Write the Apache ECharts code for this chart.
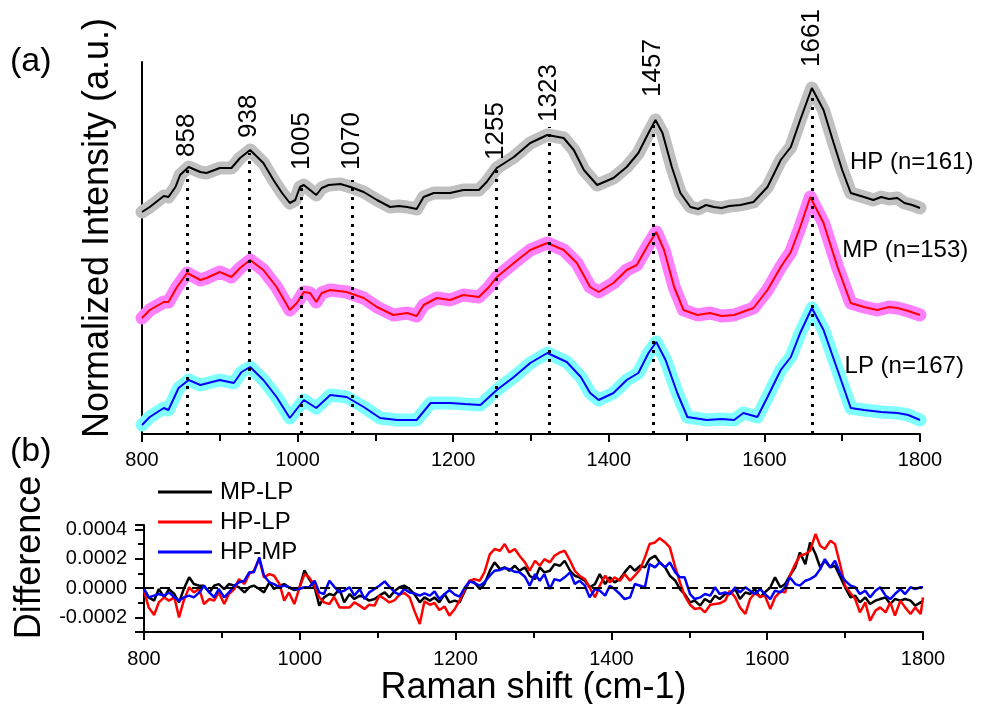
<!DOCTYPE html>
<html><head><meta charset="utf-8">
<script src="https://cdn.jsdelivr.net/npm/echarts@6/dist/echarts.min.js"></script>
<style>html,body{margin:0;padding:0;background:#fff}#c{width:985px;height:704px}</style>
</head><body><div id="c"></div>
<script>
// ---------- (a) mean spectra (offset, arbitrary units) ----------
const hpShift = [800,810,828,834,843,849,860,875,883,900,915,926,939,956,969,980,990,997,1003,1008,1016,1024,1031,1040,1055,1068,1085,1102,1119,1130,1141,1153,1162,1175,1196,1213,1233,1243,1256,1278,1299,1321,1342,1355,1368,1385,1406,1423,1438,1451,1460,1469,1481,1492,1505,1515,1525,1535,1545,1555,1569,1586,1604,1621,1634,1646,1661,1676,1689,1700,1711,1728,1740,1750,1760,1771,1780,1790,1800];
const hpIntensity = [2.22,2.27,2.38,2.37,2.47,2.59,2.67,2.62,2.61,2.66,2.66,2.76,2.84,2.71,2.54,2.41,2.31,2.34,2.47,2.49,2.44,2.39,2.46,2.49,2.50,2.47,2.42,2.34,2.27,2.28,2.27,2.25,2.37,2.41,2.41,2.44,2.44,2.52,2.66,2.77,2.91,2.99,2.96,2.84,2.64,2.49,2.56,2.67,2.81,3.01,3.14,3.01,2.67,2.41,2.27,2.25,2.29,2.27,2.26,2.28,2.29,2.32,2.47,2.74,2.87,3.14,3.46,3.24,2.91,2.64,2.41,2.37,2.34,2.37,2.35,2.36,2.31,2.29,2.26];

const mpShift = [800,810,828,834,845,858,875,883,900,915,926,939,956,973,990,999,1008,1016,1024,1031,1042,1063,1085,1102,1123,1141,1153,1162,1179,1196,1213,1233,1246,1256,1278,1299,1321,1342,1359,1376,1387,1406,1423,1436,1449,1461,1471,1484,1496,1514,1530,1545,1561,1586,1604,1621,1634,1646,1659,1676,1694,1711,1728,1745,1760,1771,1785,1800];
const mpIntensity = [1.16,1.24,1.32,1.32,1.47,1.61,1.54,1.56,1.62,1.57,1.66,1.74,1.64,1.47,1.24,1.31,1.42,1.41,1.32,1.41,1.44,1.42,1.36,1.27,1.19,1.21,1.18,1.29,1.36,1.34,1.39,1.37,1.47,1.57,1.71,1.84,1.91,1.84,1.71,1.47,1.42,1.51,1.64,1.69,1.87,2.02,1.84,1.47,1.24,1.19,1.21,1.18,1.19,1.26,1.44,1.67,1.82,2.07,2.37,2.11,1.67,1.31,1.27,1.24,1.27,1.26,1.23,1.19];

const lpShift = [800,810,828,834,847,860,875,900,918,928,939,956,973,990,1008,1024,1042,1063,1085,1106,1128,1153,1171,1196,1215,1235,1256,1278,1299,1321,1346,1364,1376,1387,1406,1423,1438,1451,1461,1473,1488,1501,1526,1545,1561,1573,1591,1604,1621,1634,1646,1661,1676,1694,1711,1728,1750,1771,1785,1800];
const lpIntensity = [0.09,0.17,0.26,0.24,0.46,0.54,0.49,0.54,0.51,0.62,0.67,0.54,0.37,0.16,0.34,0.26,0.39,0.37,0.27,0.16,0.14,0.14,0.31,0.31,0.30,0.29,0.44,0.57,0.71,0.81,0.72,0.57,0.41,0.34,0.41,0.54,0.61,0.81,0.92,0.74,0.41,0.17,0.14,0.15,0.14,0.21,0.17,0.37,0.64,0.77,1.01,1.26,1.04,0.64,0.26,0.24,0.22,0.21,0.19,0.14];

const curveNames = ['HP (n=161)', 'MP (n=153)', 'LP (n=167)'];

// peak assignments (cm-1), height of dotted marker and of its label base
const peakShift = [858, 938, 1005, 1070, 1255, 1323, 1457, 1661];
const peakTop = [2.64, 2.81, 2.47, 2.54, 2.64, 3.07, 3.11, 3.42];
const peakLabelBase = [2.77, 2.96, 2.64, 2.64, 2.74, 3.12, 3.37, 3.67];

// ---------- (b) difference spectra (values in units of 1e-4) ----------
const DIFF_UNIT = 1e-4;
const diffShift = [800,806,813,819,826,832,839,845,851,858,864,871,877,884,890,896,903,909,916,922,929,935,941,948,954,961,967,974,980,986,993,999,1006,1012,1019,1025,1031,1038,1044,1051,1057,1064,1070,1077,1083,1089,1096,1102,1109,1115,1122,1128,1134,1141,1147,1154,1160,1167,1173,1179,1186,1192,1199,1205,1212,1218,1224,1231,1237,1244,1250,1257,1263,1269,1276,1282,1289,1295,1302,1308,1314,1321,1327,1334,1340,1347,1353,1359,1366,1372,1379,1385,1392,1398,1404,1411,1417,1424,1430,1437,1443,1449,1456,1462,1469,1475,1482,1488,1494,1501,1507,1514,1520,1527,1533,1539,1546,1552,1559,1565,1572,1578,1584,1591,1597,1604,1610,1617,1623,1629,1636,1642,1649,1655,1662,1668,1674,1681,1687,1694,1700,1707,1713,1719,1726,1732,1739,1745,1752,1758,1764,1771,1777,1784,1790,1797,1800];
const mpMinusLp = [-0.07,-0.64,-0.86,-0.07,-0.64,-0.07,-0.41,-0.98,-0.07,0.73,
 0.27,0.16,0.16,-0.30,0.16,0.27,-0.07,0.27,0.16,0.05,
 -0.30,0.05,0.16,-0.07,-0.30,0.39,-0.07,0.16,0.27,0.05,
 -0.14,-0.07,1.2,0.61,0.05,-1.20,-0.64,-0.41,-0.5,
 -0.07,-0.98,-0.41,-0.75,-0.52,-0.64,-0.86,-0.75,-0.52,-0.30,
 -0.64,-0.18,0.05,0.16,-0.07,-0.41,-0.98,-0.64,-0.86,-0.64,
 -0.98,-0.41,-0.98,-0.86,-0.98,-0.18,0.50,0.39,-0.07,0.27,
 1.18,1.75,1.29,1.41,1.18,1.52,1.18,1.41,0.84,
 0.61,1.41,1.07,1.18,1.63,1.52,1.86,1.18,0.84,0.73,
 0.50,0.05,0.27,0.95,0.27,0.73,0.39,0.61,1.07,1.52,
 1.18,1.52,1.41,1.97,2.20,1.75,1.41,0.84,0.50,-0.07,
 -0.41,-0.98,-0.86,-1.20,-0.75,-0.98,-0.52,-0.75,-0.41,
 -0.41,-0.07,-0.75,-0.30,-0.41,-0.07,-0.64,-0.30,0.05,0.73,
 0.05,0.27,0.84,1.41,2.43,1.63,3.11,2.32,1.41,1.86,
 1.41,1.52,0.73,0.05,-0.64,-0.52,-0.98,-0.64,-1.09,-0.86,
 -0.75,-0.64,-1.09,-0.75,-0.86,-0.75,-0.86,-1.20,-0.98,-0.86];
const hpMinusLp = [-0.18,-1.32,-1.84,-0.98,-0.64,-0.86,-0.64,-2.0,-0.86,0.05,
 -0.30,-0.07,-1.09,-0.75,-0.86,-0.30,-1.09,-0.41,-0.07,0.61,
 0.27,0.95,1.18,1.97,0.73,0.95,0.84,0.27,-0.86,-0.30,
 -1.09,-0.07,0.95,0.73,0.16,-0.64,-0.98,-1.09,-0.6,
 -1.32,-1.32,-1.32,-0.98,-1.20,-1.43,-1.14,-1.20,-0.52,-0.75,
 -0.98,-0.82,-0.45,-0.32,-0.64,-1.54,-2.45,-0.91,-1.14,-1.02,
 -1.50,-1.27,-1.88,-1.43,-0.86,-0.07,0.50,0.61,0.50,1.07,
 2.32,2.66,2.54,3.0,2.43,2.66,2.20,1.75,1.18,
 1.86,1.52,1.97,1.75,2.20,2.43,2.54,1.86,1.18,0.84,
 0.61,0.05,-0.64,0.16,0.84,0.39,0.73,0.50,0.95,0.50,
 0.84,1.29,2.09,3.0,3.11,3.4,3.11,2.77,1.41,0.39,
 -0.52,-1.14,-1.43,-1.36,-1.66,-1.14,-1.09,-1.04,-0.86,
 -0.18,-0.64,-1.32,-1.77,-0.75,-0.36,-0.59,-0.52,-1.43,-0.64,
 -0.23,-0.30,0.84,1.63,2.20,2.32,2.54,3.68,2.88,2.66,
 3.22,3.0,1.52,0.16,-0.36,-0.75,-1.66,-0.98,-2.22,-1.54,
 -1.32,-1.66,-0.98,-1.88,-0.86,-1.32,-1.77,-1.32,-1.77,-0.64];
const hpMinusMp = [-0.07,-0.64,-0.52,-0.41,-0.52,-0.30,-0.64,-0.86,-0.64,-0.52,
 -0.64,-0.30,0.16,-0.30,-0.64,-0.07,-0.64,-0.30,0.16,0.39,
 0.50,1.07,1.07,2.09,0.84,0.39,0.27,0.05,0.16,0.05,
 -0.07,-0.07,0.05,0.05,0.50,-0.30,-0.41,0.50,0.1,
 -0.30,-0.18,0.05,-0.52,-0.07,-0.75,-0.30,-0.07,0.16,0.45,
 0.09,-0.30,-0.45,-0.07,-0.30,-0.36,-0.52,-0.36,-0.52,-0.23,
 -0.75,-0.41,-0.14,-0.45,-0.59,0.05,0.45,0.34,0.16,0.39,
 0.84,1.18,1.23,1.36,1.29,1.11,1.07,0.77,0.16,
 0.95,0.50,0.95,-0.07,0.61,0.50,0.73,1.07,0.27,0.50,
 0.16,-0.64,-0.07,-0.18,-0.52,0.16,-0.07,-0.41,-0.75,-0.64,
 0.27,0.16,0.05,1.63,1.41,1.75,1.41,1.75,1.07,0.73,
 0.73,-0.41,-0.75,-0.64,-0.41,-0.52,0.05,-0.41,-0.30,
 -0.41,0.05,-0.30,0.05,-0.18,-0.41,-0.07,-0.41,-0.75,-0.18,
 -0.30,0.05,0.73,0.27,0.16,0.50,0.61,0.84,1.29,1.97,
 1.41,1.86,0.95,0.50,0.16,0.05,-0.41,-0.18,-0.64,-0.18,
 0.05,-0.52,-0.75,-0.41,-0.07,-0.41,0.05,-0.07,0.05,0.05];
const diffNames = ['MP-LP', 'HP-LP', 'HP-MP'];

// ---------- axis ranges / ticks ----------
const shiftTicks = [800, 1000, 1200, 1400, 1600, 1800];
const DIFF_MIN = -0.0003, DIFF_MAX = 0.00043;

// ---------- build ----------
const F = "'Liberation Sans', Arial, Helvetica, sans-serif";
const zip = (xs, ys, k) => xs.map((x, i) => [x, ys[i] * (k || 1)]);
const hp = zip(hpShift, hpIntensity), mp = zip(mpShift, mpIntensity), lp = zip(lpShift, lpIntensity);

const baseX = (gi, extra) => Object.assign({
  gridIndex: gi, type: 'value', min: shiftTicks[0], max: shiftTicks[shiftTicks.length - 1], interval: 200,
  axisLine: { show: true, onZero: false, lineStyle: { color: '#000', width: 2 } },
  axisTick: { show: true, length: 8, lineStyle: { color: '#000', width: 2 } },
  minorTick: { show: true, splitNumber: 2, length: 7, lineStyle: { color: '#000', width: 2 } },
  axisLabel: { fontSize: 20, color: '#000', fontFamily: F, margin: 16, formatter: v => String(v) },
  splitLine: { show: false }, minorSplitLine: { show: false }
}, extra || {});

function spectrum(name, data, bandColor, lineColor, labelXY) {
  return [
    { type: 'line', xAxisIndex: 0, yAxisIndex: 0, data, symbol: 'none', silent: true, z: 1,
      lineStyle: { color: bandColor, width: 13, join: 'round', cap: 'round' } },
    { type: 'line', name, xAxisIndex: 0, yAxisIndex: 0, data, symbol: 'none', silent: true, z: 3,
      lineStyle: { color: lineColor, width: 2 },
      markPoint: { symbol: 'circle', symbolSize: 0, silent: true, animation: false,
        data: [{ coord: labelXY, label: { show: true, formatter: name, position: [0, 0], align: 'left', verticalAlign: 'middle', fontSize: 24, color: '#000', fontFamily: F } }] } }
  ];
}

const option = {
  animation: false,
  backgroundColor: '#fff',
  textStyle: { fontFamily: F },
  title: [
    { text: '(a)', left: 10, top: 45, padding: 0, textStyle: { fontSize: 34, fontWeight: 'normal', color: '#000', fontFamily: F } },
    { text: '(b)', left: 10, top: 435, padding: 0, textStyle: { fontSize: 34, fontWeight: 'normal', color: '#000', fontFamily: F } }
  ],
  legend: {
    data: diffNames, orient: 'vertical', left: 158, top: 480, padding: 0,
    itemWidth: 54, itemHeight: 3, itemGap: 6, icon: 'rect',
    textStyle: { fontSize: 24, color: '#000', fontFamily: F, padding: [0, 0, 0, 3] }
  },
  grid: [
    { left: 142, right: 65, top: 62, bottom: 270, outerBoundsMode: 'none' },
    { left: 144, right: 62, top: 525, bottom: 72, outerBoundsMode: 'none' }
  ],
  xAxis: [
    baseX(0),
    baseX(1, { name: 'Raman shift (cm-1)', nameLocation: 'middle', nameGap: 30,
      nameTextStyle: { fontSize: 36, color: '#000', fontFamily: F },
      axisTick: { show: true, length: 8, lineStyle: { color: '#000', width: 2 } },
      minorTick: { show: true, splitNumber: 2, length: 6, lineStyle: { color: '#000', width: 2 } },
      axisLabel: { fontSize: 20, color: '#000', fontFamily: F, margin: 17, formatter: v => String(v) } })
  ],
  yAxis: [
    { gridIndex: 0, type: 'value', min: 0, max: 3.72, position: 'left',
      axisLine: { show: true, onZero: false, lineStyle: { color: '#000', width: 2 } },
      axisTick: { show: false }, axisLabel: { show: false }, splitLine: { show: false },
      name: 'Normalized Intensity (a.u.)', nameLocation: 'middle', nameGap: 26, nameRotate: 90,
      nameTextStyle: { fontSize: 36, color: '#000', fontFamily: F, padding: [0, 0, 0, 40] } },
    { gridIndex: 1, type: 'value', min: DIFF_MIN, max: DIFF_MAX, position: 'left', splitNumber: 4,
      axisLine: { show: true, onZero: false, lineStyle: { color: '#000', width: 2 } },
      axisTick: { show: true, length: 9, lineStyle: { color: '#000', width: 2 } },
      minorTick: { show: true, splitNumber: 2, length: 6, lineStyle: { color: '#000', width: 2 } },
      axisLabel: { show: true, fontSize: 20, color: '#000', fontFamily: F, margin: 17,
        formatter: v => (Math.abs(v) < 1e-12 ? 0 : v).toFixed(4) },
      splitLine: { show: false }, minorSplitLine: { show: false },
      name: 'Difference', nameLocation: 'middle', nameGap: 96, nameRotate: 90,
      nameTextStyle: { fontSize: 36, color: '#000', fontFamily: F, padding: [0, 0, 0, 42] } }
  ],
  series: [
    ...spectrum(curveNames[0], hp, '#c0c0c0', '#000000', [1710, 2.72]),
    ...spectrum(curveNames[1], mp, '#ff80ff', '#ff0000', [1700, 1.84]),
    ...spectrum(curveNames[2], lp, '#80ffff', '#0000ff', [1703, 0.68]),
    { type: 'scatter', name: 'peaks', xAxisIndex: 0, yAxisIndex: 0, silent: true, z: 5,
      symbol: 'circle', symbolSize: 0.1, itemStyle: { color: '#000', opacity: 1 },
      data: peakShift.map((x, i) => [x, peakLabelBase[i]]),
      label: { show: true, position: [0, 0], rotate: 90, align: 'left', verticalAlign: 'middle',
        fontSize: 26, color: '#000', opacity: 1, textBorderWidth: 0, fontFamily: F, formatter: p => String(p.value[0]) },
      markLine: { silent: true, symbol: ['none', 'none'], animation: false, label: { show: false },
        lineStyle: { type: [3, 6], color: '#000', width: 3 },
        data: peakShift.map((x, i) => [{ coord: [x, 0] }, { coord: [x, peakTop[i]] }]) } },
    { type: 'line', name: diffNames[0], xAxisIndex: 1, yAxisIndex: 1, data: zip(diffShift, mpMinusLp, DIFF_UNIT),
      symbol: 'none', silent: true, z: 3, lineStyle: { color: '#000000', width: 2.5 }, itemStyle: { color: '#000000' },
      markLine: { silent: true, symbol: ['none', 'none'], animation: false, label: { show: false },
        lineStyle: { type: [10, 6], color: '#000', width: 2 }, data: [{ yAxis: 0 }] } },
    { type: 'line', name: diffNames[1], xAxisIndex: 1, yAxisIndex: 1, data: zip(diffShift, hpMinusLp, DIFF_UNIT),
      symbol: 'none', silent: true, z: 3, lineStyle: { color: '#ff0000', width: 2.5 }, itemStyle: { color: '#ff0000' } },
    { type: 'line', name: diffNames[2], xAxisIndex: 1, yAxisIndex: 1, data: zip(diffShift, hpMinusMp, DIFF_UNIT),
      symbol: 'none', silent: true, z: 3, lineStyle: { color: '#0000ff', width: 2.5 }, itemStyle: { color: '#0000ff' } }
  ]
};

const chart = echarts.init(document.getElementById('c'), null, { renderer: 'canvas' });
chart.setOption(option);
</script>
</body></html>
